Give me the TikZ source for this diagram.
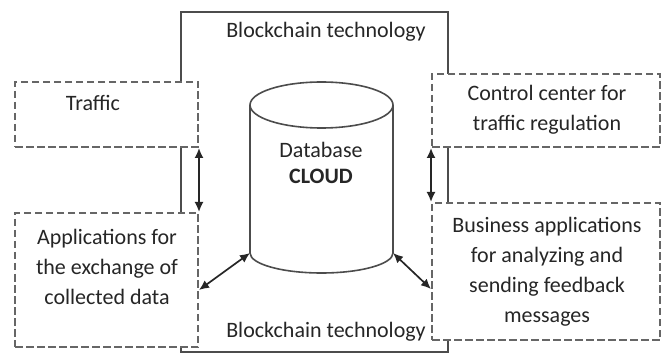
\documentclass[tikz,border=0pt]{standalone}
\usepackage{fontspec}
\setmainfont{Carlito}
\usetikzlibrary{arrows.meta}
\begin{document}
\begin{tikzpicture}[x=1pt,y=-1pt,
  frame/.style={draw=black!70, line width=2pt},
  dbox/.style={draw=black!60, line width=2pt, dash pattern=on 7.5pt off 3.5pt, fill=white, inner sep=0pt},
  txt/.style={font=\fontsize{22}{30}\selectfont, text=black!85, align=center, inner sep=0pt},
  arr/.style={{Latex[length=10pt,width=9pt]}-{Latex[length=10pt,width=9pt]}, line width=1.7pt, draw=black!85}]
\useasboundingbox (0,0) rectangle (661,355);
% outer blockchain frame
\node[frame, minimum width=267pt, minimum height=340pt, inner sep=0pt] (chain) at (314.5,182) {};
% dashed boxes
\node[dbox, minimum width=183pt, minimum height=65pt] (traffic) at (106.5,114.5) {};
\node[dbox, minimum width=183pt, minimum height=134pt] (apps) at (106.5,280) {};
\node[dbox, minimum width=228pt, minimum height=73pt] (control) at (546,110.5) {};
\node[dbox, minimum width=228pt, minimum height=137pt] (business) at (546,271.5) {};
% cylinder
\draw[draw=black!70, line width=1.6pt, fill=white] (250,105) -- (250,253)
  arc[start angle=180, end angle=360, x radius=71.5pt, y radius=20pt] -- (393,105);
\draw[draw=black!70, line width=1.6pt, fill=white] (321.5,105) ellipse[x radius=71.5pt, y radius=23pt];
\coordinate (cylBL) at (250,253);
\coordinate (cylBR) at (393,253);
\coordinate (appsIn) at (199,290);
\coordinate (busIn) at (431,289);
% texts
\node[txt] (tTop) at (326,32) {Blockchain technology};
\node[txt] (tBottom) at (326,332) {Blockchain technology};
\node[txt] (tTraffic) at (93,103) {Traffic};
\node[txt] (tApps) at (107,267) {Applications for\\the exchange of\\collected data};
\node[txt] (tControl) at (547,110) {Control center for\\traffic regulation};
\node[txt] (tBusiness) at (547,272) {Business applications\\for analyzing and\\sending feedback\\messages};
\node[txt] (tDb) at (321,150) {Database};
\node[txt, font=\fontsize{22}{30}\selectfont\bfseries] (tCloud) at (321,176) {CLOUD};
% connectors
\draw[arr] (traffic.south east) -- (apps.north east);
\draw[arr] (control.south west) -- (business.north west);
\draw[arr] (cylBL) -- (appsIn);
\draw[arr] (cylBR) -- (busIn);
\end{tikzpicture}
\end{document}
